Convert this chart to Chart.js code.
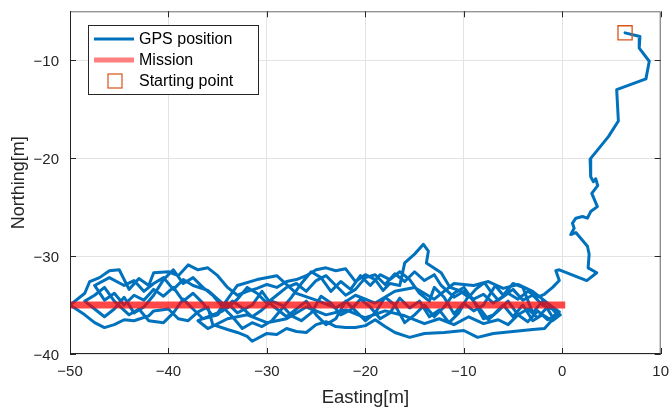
<!DOCTYPE html>
<html>
<head>
<meta charset="utf-8">
<script src="https://cdn.jsdelivr.net/npm/chart.js@4"></script>
<style>
  body { margin: 0; background: #fff; }
  canvas { display: block; }
</style>
</head>
<body>
<canvas id="gpsChart" width="672" height="412"></canvas>
<script>
// GPS track, easting / northing in metres
const gpsEast = [
    6.38, 7.89, 7.82, 8.84, 8.50, 5.53, 5.70, 4.69, 2.83, 2.89, 3.17, 3.40, 3.60, 3.00, 3.57, 2.89, 2.56, 2.05, 1.38, 1.04,
    1.21, 0.87, 1.38, 2.56, 2.73, 2.63, 3.50, 2.49, -0.30, -0.65, -0.30, -0.98, -1.82, -2.5,
    -3.5, -4.5, -5.5, -6.5, -7.2, -7.9, -8.8, -9.5, -10.5, -11.4, -12.3, -13.8, -13.6, -14.1, -15, -16,
    -16.5, -17.5, -18.2, -19, -20, -21, -22, -23, -24, -25, -26, -27, -28, -29, -30, -31, -32, -33, -34, -35,
    -36, -37, -38, -39, -40, -41.5, -42, -43, -44, -45, -46, -47, -48, -48.5, -50,
    -48.5, -47.5, -46.5, -45.5, -44.5, -43.5, -42, -41.5, -40, -39, -38, -37, -36, -35.5, -34, -33, -32, -31.5, -30, -29,
    -28, -27, -26, -25, -24, -23, -22, -21, -20, -19, -18, -17, -15.5, -14, -12, -10, -8.6, -7, -5, -3, -1.8, -0.3,
    -1.5, -2.5, -3.5, -4.5, -5.5, -6.5, -7.5, -8.5, -9.5, -10.5, -11.5, -12.5, -13.5, -14.5, -15.5, -16.5, -17.5, -18.5, -19.5, -20.5,
    -21.5, -22.5, -23.5, -24.5, -25.5, -26.5, -27.5, -28.5, -29.5, -30.5, -31.5, -32.5, -33.5, -34.5, -35.5, -36.5, -37.5, -38.5, -39.5, -40.5,
    -41.5, -42.5, -43.5, -44.5, -45.5, -46.5, -47.5, -46,
    -44.5, -43.5, -42.5, -41.5, -40.5, -39.5, -38.5, -37.5, -36, -35, -34, -33, -32, -31, -30, -29, -28, -27, -26, -25,
    -24, -23, -22, -21, -20, -19, -18, -17, -16, -15, -14, -13, -12.3, -11, -10, -9, -8, -7, -6, -5,
    -4, -3, -2, -1, -0.5, -1.5, -2.5, -3.5, -4.5, -5.5, -6.5,
    -8, -9.5, -11, -12.5, -14, -16, -18, -20, -22, -24, -26, -28, -30, -32, -34, -36, -37,
    -35, -33, -31, -29, -27, -25, -23, -21, -19, -17, -15, -13, -11, -9, -7.5, -6, -4.5, -3, -2, -1,
    -0.3, -1,
    -2, -3, -4, -5, -6, -6.8, -8, -9, -10, -11, -12, -13, -13.5, -14.5, -15.5, -16.5, -17.5, -18.5, -19.5, -20.5,
    -21.5, -22.5, -23.5, -24.5, -25.5, -26.5, -27.5, -28.5, -29.5, -30.5, -31.5, -32.5, -33.5, -34.5, -35.5, -36.5, -37.5, -38.5, -39.5, -40.5,
    -41.5, -42.5, -43.5, -44.5, -45.5, -46.5, -47.5, -48.5,
    -47.5, -46.5, -45.5, -44, -43, -42, -40.5, -39.5, -38.5, -37.5, -36.5, -35, -34, -33, -31.5, -30.5, -29.5, -28, -27, -26,
    -25, -24, -23, -22, -21, -20, -19, -18, -17, -16, -15, -14, -13, -12, -11, -10, -9, -8, -7, -6,
    -5, -4, -3, -2, -1, -0.2
];
const gpsNorth = [
    -7.2, -7.57, -8.76, -10.1, -11.9, -13.0, -16.2, -17.8, -20.1, -21.9, -22.4, -22.1, -22.8, -23.6, -24.95, -25.45, -26.13, -25.96, -26.13, -26.64,
    -27.15, -27.8, -27.6, -29.0, -29.8, -31.2, -31.7, -32.5, -31.4, -31.5, -32.5, -33.2, -33.9, -34.2,
    -33.6, -34.4, -33.8, -34.5, -33.7, -32.7, -33.4, -34.2, -33.5, -33.2, -31.7, -30.7, -29.5, -28.8, -29.8, -30.7,
    -33.0, -32.8, -33.5, -32.4, -31.9, -32.6, -31.3, -31.5, -31.2, -31.4, -32.0, -32.4, -32.6, -33.2, -32.9, -33.3, -33.6, -34.0, -33.2, -32.0,
    -31.2, -31.4, -30.9, -32.0, -31.6, -31.7, -33.0, -32.3, -33.4, -31.4, -31.5, -32.2, -32.6, -33.8, -35.0,
    -36.0, -36.8, -37.3, -37.0, -36.5, -36.6, -36.1, -35.6, -35.4, -36.4, -36.6, -35.7, -35.2, -37.0, -37.5, -37.8, -38.2, -38.7, -37.9, -38.0,
    -37.4, -37.7, -37.8, -37.0, -36.7, -37.2, -37.3, -37.3, -37.1, -36.5, -37.2, -37.8, -38.3, -37.9, -37.8, -37.6, -38.3, -37.9, -37.7, -37.5, -37.4, -35.7,
    -35.2, -36.3, -35.4, -36.0, -34.6, -35.6, -36.5, -35.2, -34.0, -35.8, -36.8, -35.5, -36.2, -34.6, -35.3, -34.3, -35.8, -36.4, -35.2, -34.4,
    -35.5, -36.0, -34.8, -34.1, -35.8, -36.6, -36.1, -35.0, -34.6, -35.5, -36.2, -35.3, -34.6, -35.6, -36.1, -34.8, -33.8, -34.6, -33.2, -34.1,
    -33.4, -34.5, -34.0, -35.0, -33.8, -34.5, -33.0, -32.2,
    -33.0, -32.5, -33.6, -32.8, -32.2, -33.4, -32.4, -33.0, -33.5, -34.4, -35.3, -34.4, -33.2, -33.8, -34.8, -34.0, -33.2, -32.8, -33.6, -32.5,
    -32.0, -33.0, -34.0, -33.4, -32.2, -31.9, -32.9, -31.8, -32.6, -31.6, -32.5, -31.9, -33.0, -34.2, -33.6, -34.4, -33.9, -34.8, -34.1, -33.4,
    -34.5, -34.0, -35.0, -35.4, -36.0, -36.5, -35.6, -36.7, -36.0, -37.0, -36.5,
    -36.9, -36.2, -37.0, -36.4, -36.9, -36.1, -35.6, -36.3, -35.5, -36.0, -35.2, -36.4, -36.8, -36.0, -36.4, -37.4, -36.6,
    -35.8, -33.0, -32.4, -32.0, -33.8, -34.5, -35.3, -34.0, -34.8, -33.6, -33.2, -34.4, -32.8, -33.0, -32.6, -33.3, -32.9, -33.6, -34.4, -35.2,
    -35.7, -36.2,
    -34.6, -35.8, -33.2, -32.8, -34.0, -33.0, -35.0, -35.6, -34.8, -35.9, -34.2, -33.2, -34.6, -33.8, -32.4, -31.6, -32.4, -31.9, -33.0, -32.0,
    -33.4, -32.6, -33.6, -32.2, -31.6, -32.8, -34.2, -35.4, -36.6, -37.2, -36.8, -37.4, -36.2, -35.2, -34.0, -33.2, -32.2, -32.8, -31.4, -32.4,
    -34.0, -35.2, -35.8, -34.2, -35.4, -36.2, -35.4, -34.6,
    -34.0, -33.2, -34.6, -36.0, -35.4, -36.6, -36.8, -35.8, -34.4, -35.4, -36.4, -36.0, -34.8, -35.8, -35.0, -33.6, -35.0, -36.2, -35.4, -34.6,
    -36.0, -37.0, -36.4, -34.6, -35.6, -36.6, -35.8, -34.2, -35.0, -36.8, -36.0, -35.0, -36.2, -35.2, -33.8, -33.2, -34.6, -36.4, -36.0, -35.0,
    -36.2, -35.0, -36.6, -36.0, -36.6, -36.0
];

// planned mission line
const missionEast = [-50, 0.3];
const missionNorth = [-35, -35];

// starting point marker
const startEast = [6.38];
const startNorth = [-7.2];

const xTicks = [-50, -40, -30, -20, -10, 0, 10];
const yTicks = [-40, -30, -20, -10];

const labels = ['GPS position', 'Mission', 'Starting point'];

function toPoints(xs, ys) {
    return xs.map((x, i) => ({ x: x, y: ys[i] }));
}

// MATLAB prints a real minus sign in tick labels
const minusLabel = v => String(v).replace('-', '\u2212');

const axisColor = '#262626';
const fontFamily = '"Liberation Sans", Arial, sans-serif';

// box round the plot area plus inward tick marks, like a MATLAB axes
const framePlugin = {
    id: 'frame',
    afterDatasetsDraw(chart) {
        const { ctx, chartArea: a, scales } = chart;
        ctx.save();
        ctx.lineWidth = 1;
        ctx.strokeStyle = '#6b6b6b';
        ctx.beginPath();
        ctx.moveTo(a.left, a.top + 0.5);
        ctx.lineTo(a.right - 0.5, a.top + 0.5);
        ctx.lineTo(a.right - 0.5, a.bottom);
        ctx.stroke();
        ctx.strokeStyle = axisColor;
        ctx.beginPath();
        ctx.moveTo(a.left + 0.5, a.top);
        ctx.lineTo(a.left + 0.5, a.bottom - 0.5);
        ctx.lineTo(a.right, a.bottom - 0.5);
        ctx.stroke();
        const t = 6;
        ctx.beginPath();
        xTicks.forEach(v => {
            const px = Math.round(scales.x.getPixelForValue(v)) + 0.5;
            ctx.moveTo(px, a.bottom); ctx.lineTo(px, a.bottom - t);
            ctx.moveTo(px, a.top); ctx.lineTo(px, a.top + t);
        });
        yTicks.forEach(v => {
            const py = Math.round(scales.y.getPixelForValue(v)) + 0.5;
            ctx.moveTo(a.left, py); ctx.lineTo(a.left + t, py);
            ctx.moveTo(a.right, py); ctx.lineTo(a.right - t, py);
        });
        ctx.stroke();
        ctx.restore();
    },
    afterDraw(chart) {
        // legend box in the upper left corner
        const ctx = chart.ctx;
        const ds = chart.data.datasets;
        const bx = 88.5, by = 25.5, bw = 170, bh = 69;
        ctx.save();
        ctx.fillStyle = '#fff';
        ctx.fillRect(bx, by, bw, bh);
        ctx.strokeStyle = axisColor;
        ctx.lineWidth = 1;
        ctx.strokeRect(bx, by, bw, bh);
        ctx.font = '16px ' + fontFamily;
        ctx.textBaseline = 'middle';
        const rows = [39, 60, 81];
        ctx.lineWidth = 3;
        ctx.strokeStyle = ds[0].borderColor;
        ctx.beginPath(); ctx.moveTo(94, rows[0]); ctx.lineTo(134, rows[0]); ctx.stroke();
        ctx.lineWidth = 5;
        ctx.strokeStyle = 'rgb(255,128,128)';
        ctx.beginPath(); ctx.moveTo(94, rows[1]); ctx.lineTo(134, rows[1]); ctx.stroke();
        ctx.lineWidth = 1.2;
        ctx.strokeStyle = ds[2].pointBorderColor;
        ctx.strokeRect(108, rows[2] - 7, 14, 14);
        ctx.fillStyle = '#000';
        ds.forEach((d, i) => ctx.fillText(d.label, 139, rows[i] + 1));
        ctx.restore();
    }
};

// stop the scales from reserving room for half a tick label at their ends
function noPad(s) {
    s.paddingTop = 0;
    s.paddingBottom = 0;
    s.paddingLeft = 0;
    s.paddingRight = 0;
}

Chart.defaults.font.family = fontFamily;

const ctx = document.getElementById('gpsChart').getContext('2d');
const gpsChart = new Chart(ctx, {
    type: 'scatter',
    data: {
        datasets: [
            {
                label: labels[0],
                data: toPoints(gpsEast, gpsNorth),
                showLine: true,
                borderColor: '#0072BD',
                borderWidth: 3,
                pointRadius: 0,
                borderJoinStyle: 'round',
                borderCapStyle: 'round',
                order: 3,
            },
            {
                label: labels[1],
                data: toPoints(missionEast, missionNorth),
                showLine: true,
                borderColor: 'rgba(255, 0, 0, 0.72)',
                borderWidth: 7,
                pointRadius: 0,
                order: 2,
            },
            {
                label: labels[2],
                data: toPoints(startEast, startNorth),
                showLine: false,
                pointStyle: 'rect',
                pointRadius: 10,
                pointBorderWidth: 1.3,
                pointBorderColor: '#D95319',
                pointBackgroundColor: 'rgba(0,0,0,0)',
                order: 1,
            },
        ],
    },
    options: {
        responsive: false,
        animation: false,
        layout: { padding: { top: 8, right: 8, left: 0, bottom: 0 } },
        plugins: {
            legend: { display: false },
            tooltip: { enabled: false },
        },
        scales: {
            x: {
                type: 'linear',
                min: -50,
                max: 10,
                afterBuildTicks: s => { s.ticks = xTicks.map(v => ({ value: v })); },
                afterFit: s => { s.height = 58; noPad(s); },
                border: { display: false },
                grid: { color: '#e3e3e3', drawTicks: false },
                ticks: { color: axisColor, font: { size: 15 }, padding: 9, callback: minusLabel },
                title: {
                    display: true,
                    text: 'Easting[m]',
                    color: axisColor,
                    font: { size: 18.5 },
                    padding: { top: 0, bottom: 3 },
                },
            },
            y: {
                type: 'linear',
                min: -40,
                max: -5,
                afterBuildTicks: s => { s.ticks = yTicks.map(v => ({ value: v })); },
                afterFit: s => { s.width = 70; noPad(s); },
                border: { display: false },
                grid: { color: '#e3e3e3', drawTicks: false },
                ticks: { color: axisColor, font: { size: 15 }, padding: 11, labelOffset: 2, callback: minusLabel },
                title: {
                    display: true,
                    text: 'Northing[m]',
                    color: axisColor,
                    font: { size: 18 },
                    padding: { top: 8, bottom: 0 },
                },
            },
        },
    },
    plugins: [framePlugin],
});
</script>
</body>
</html>
